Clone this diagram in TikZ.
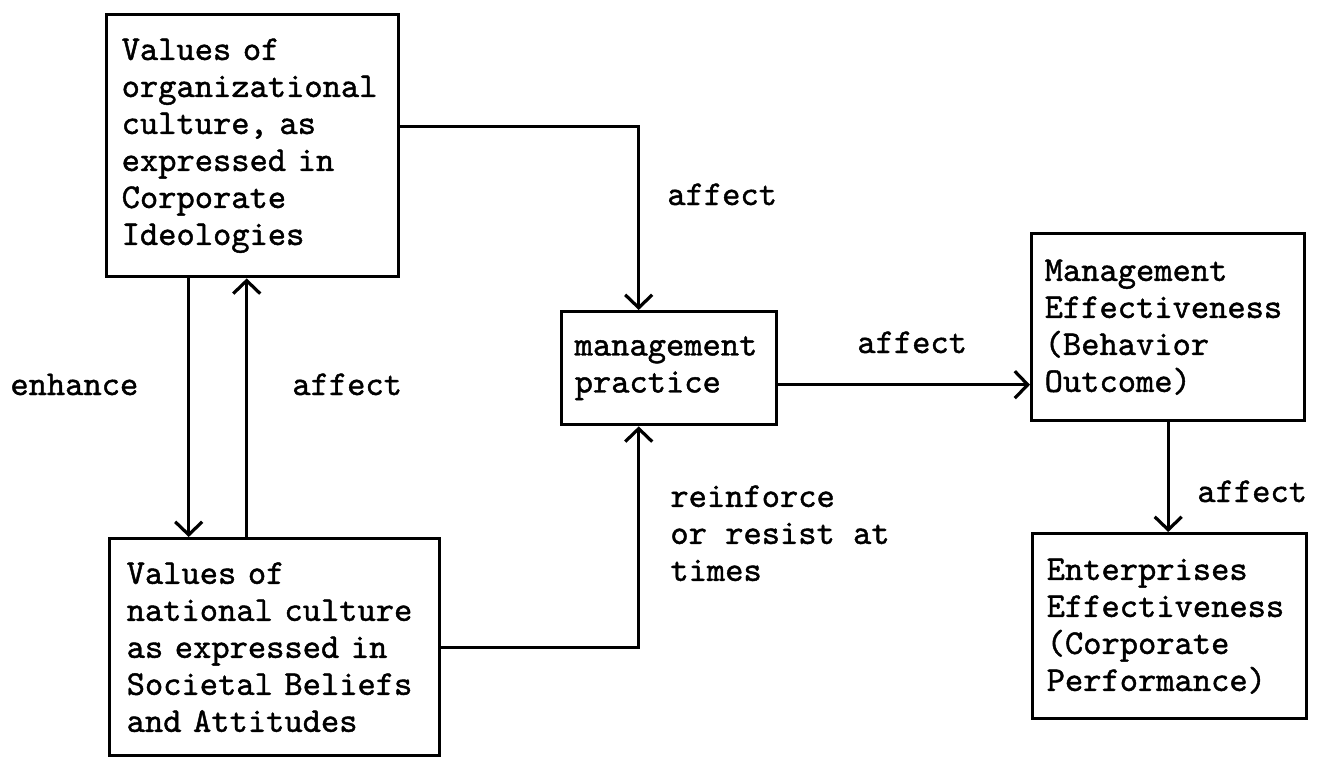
\documentclass[tikz,border=0pt]{standalone}
\usepackage{fontspec}
\newfontfamily\typew{lmmono10-regular}[Extension=.otf, FakeBold=1.2, WordSpace={1,0,0}]
\usetikzlibrary{arrows.meta}
\begin{document}
\begin{tikzpicture}[x=0.5pt,y=-0.5pt,
  every node/.style={font=\typew\fontsize{17.4}{18.5}\selectfont, text=black},
  boxnode/.style={draw=black, line width=1.7pt, rectangle, anchor=north west, align=left, inner sep=0pt},
  conn/.style={draw=black, line width=1.6pt, -{Straight Barb[length=6.5pt,width=13.5pt]}},
  lbl/.style={inner sep=0pt, anchor=base west},
  lblm/.style={inner sep=0pt, anchor=north west, align=left}
]
\useasboundingbox[fill=white] (0,0) rectangle (1319,757);

% boxes
\node[boxnode, minimum width=146pt, minimum height=131pt, text width=131pt] (b1) at (105,13)
  {Values of\\organizational\\culture, as\\expressed in\\Corporate\\Ideologies};
\node[boxnode, minimum width=165pt, minimum height=108.5pt, text width=148pt] (b2) at (108,537)
  {Values of\\national culture\\as expressed in\\Societal Beliefs\\and Attitudes};
\node[boxnode, minimum width=107.5pt, minimum height=56.5pt, text width=94.5pt] (mp) at (560,310)
  {management\\practice};
\node[boxnode, minimum width=136.5pt, minimum height=93.5pt, text width=123.5pt] (b3) at (1030,232)
  {Management\\Effectiveness\\(Behavior\\Outcome)};
\node[boxnode, minimum width=137pt, minimum height=92.5pt, text width=123pt] (b4) at (1031,532)
  {Enterprises\\Effectiveness\\(Corporate\\Performance)};

% connectors
\draw[conn] ([yshift=9.5pt]b1.east) -| ([xshift=-15.25pt]mp.north);
\draw[conn] ([xshift=-32pt]b1.south) -- ([xshift=-32pt]b1.south |- b2.north);
\draw[conn] ([xshift=-3pt]b1.south |- b2.north) -- ([xshift=-3pt]b1.south);
\draw[conn] (b2.east) -| ([xshift=-15.25pt]mp.south);
\draw[conn] ([yshift=-8.25pt]mp.east) -- ([yshift=-8.25pt]mp.east -| b3.west);
\draw[conn] (b3.south) -- (b3.south |- b4.north);

% labels
\node[lbl] (l1) at (667,205) {affect};
\node[lbl] (l2) at (10,395) {enhance};
\node[lbl] (l3) at (292,395) {affect};
\node[lbl] (l4) at (857,353) {affect};
\node[lblm] (l5) at (670,485) {reinforce\\or resist at\\times};
\node[lbl] (l6) at (1197,502) {affect};
\end{tikzpicture}
\end{document}
